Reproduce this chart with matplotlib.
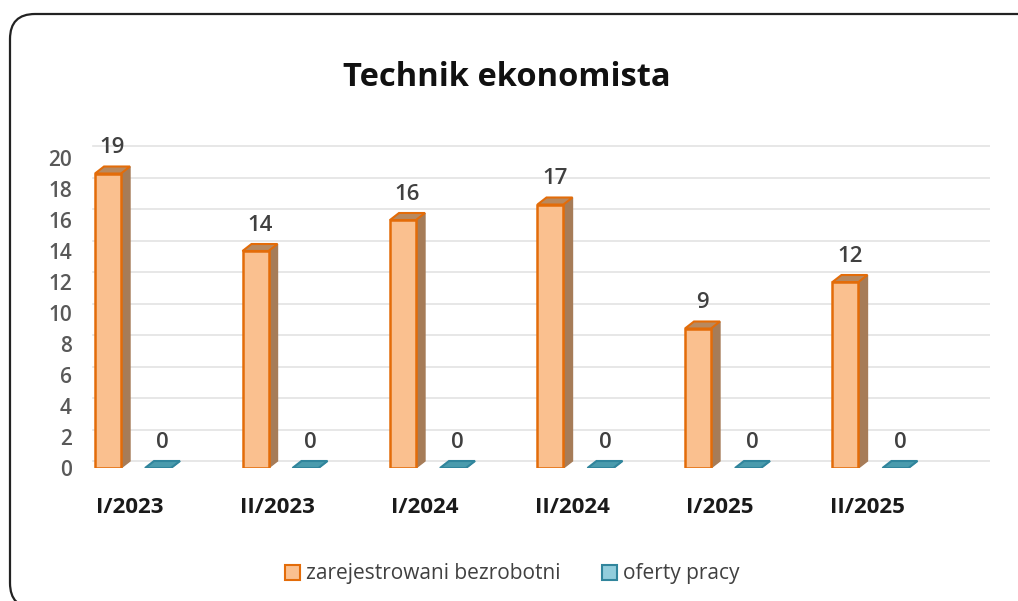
from matplotlib import pyplot as plt
from matplotlib.patches import Rectangle, Polygon, FancyBboxPatch
from matplotlib.transforms import IdentityTransform

# Data
periods = ['I/2023', 'II/2023', 'I/2024', 'II/2024', 'I/2025', 'II/2025']
unemployed = [19, 14, 16, 17, 9, 12]
job_offers = [0, 0, 0, 0, 0, 0]
series_names = ['zarejestrowani bezrobotni', 'oferty pracy']

plt.rcParams['font.family'] = ['Open Sans', 'DejaVu Sans']

fig = plt.figure(figsize=(10.18, 6.01), dpi=100)

# rounded frame around the whole chart (runs off the right and bottom edge), pixel coords
frame = FancyBboxPatch((10, -7), 1040, 594,
                       boxstyle='round,pad=0,rounding_size=25',
                       transform=IdentityTransform(), facecolor='none',
                       edgecolor='#222222', linewidth=1.6, zorder=-1)
fig.patches.append(frame)

ax = fig.add_axes([90 / 1018, (601 - 468) / 601, 900 / 1018, 325.5 / 601])
ax.set_xlim(-0.271, 5.831)
ax.set_ylim(0, 21)
ax.patch.set_alpha(0)
for s in ax.spines.values():
    s.set_visible(False)

# 3D look: depth offset in data units
dx = 9 / 147.5
dy = 7 / 15.5
w = 26 / 147.5


def box(x0, h, face, side, top, edge):
    ax.add_patch(Polygon([(x0 + w, 0), (x0 + w + dx, dy), (x0 + w + dx, h + dy), (x0 + w, h)],
                         closed=True, facecolor=side, edgecolor=side, lw=1, zorder=3))
    ax.add_patch(Polygon([(x0, h), (x0 + dx, h + dy), (x0 + w + dx, h + dy), (x0 + w, h)],
                         closed=True, facecolor=top, edgecolor=edge, lw=1.5, zorder=3))
    if h > 0:
        ax.add_patch(Rectangle((x0, 0), w, h, facecolor=face, edgecolor=edge, lw=1.8, zorder=4))


# back wall gridlines
for g in range(0, 21, 2):
    ax.plot([-0.25, 5.831], [g * 1.015 + dy, g * 1.015 + dy], color='#e3e3e3', lw=1.2, zorder=1)

for i, (u, o) in enumerate(zip(unemployed, job_offers)):
    box(i - 0.237, u, '#fac08f', '#a67c58', '#b8895f', '#e36c09')
    box(i + 0.102, o, '#92cddc', '#31859c', '#4a9bad', '#31859c')
    ax.annotate(str(u), (i - 0.237 + (w + dx) / 2, u + dy), xytext=(0, 6),
                textcoords='offset points', ha='center', va='bottom',
                fontsize=16, fontweight='semibold', color='#404040')
    ax.annotate(str(o), (i + 0.102 + (w + dx) / 2, o + dy), xytext=(0, 6),
                textcoords='offset points', ha='center', va='bottom',
                fontsize=16, fontweight='semibold', color='#404040')

ax.set_yticks(range(0, 21, 2))
ax.set_yticklabels([str(v) for v in range(0, 21, 2)], fontsize=15,
                   fontweight='semibold', color='#595959')
ax.set_xticks(range(len(periods)))
ax.set_xticklabels(periods, fontsize=16, fontweight='bold', color='#1a1a1a')
ax.tick_params(axis='y', length=0, pad=13)
ax.tick_params(axis='x', length=0, pad=21)

fig.text(507 / 1018, 1 - 78 / 601, 'Technik ekonomista', ha='center', va='center',
         fontsize=23.5, fontweight='bold', color='#111111')

# legend
handles = [Rectangle((0, 0), 1, 1, facecolor='#fac08f', edgecolor='#e36c09', lw=1.5),
           Rectangle((0, 0), 1, 1, facecolor='#92cddc', edgecolor='#31859c', lw=1.5)]
fig.legend(handles, series_names, loc='center', bbox_to_anchor=(512 / 1018, 1 - 574 / 601),
           ncol=2, frameon=False, fontsize=15, handlelength=0.75, handleheight=0.75,
           handletextpad=0.25, columnspacing=2.0, labelcolor='#404040')

fig.savefig('out.png', dpi=100)
